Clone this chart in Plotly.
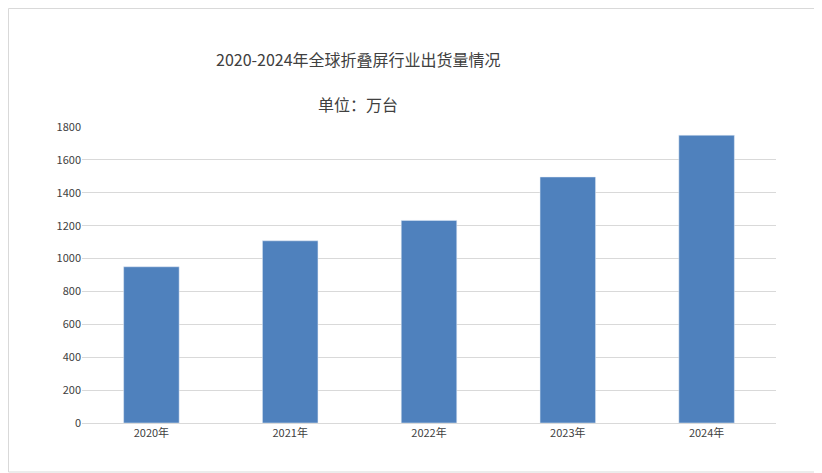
import plotly.graph_objects as go

years = ["2020年", "2021年", "2022年", "2023年", "2024年"]
shipments = [950, 1108, 1232, 1496, 1750]
tick_vals = [0, 200, 400, 600, 800, 1000, 1200, 1400, 1600, 1800]

# page body has an 8px margin, so the figure is drawn 8px smaller and shifted
W, H = 814, 465
L, R, T, B = 74, 46, 119, 50

fig = go.Figure()
fig.add_trace(go.Bar(x=years, y=shipments, marker_color="#4f81bd", width=0.4))

pw, ph = W - L - R, H - T - B

def px(x):
    return (x - L) / pw

def py(y_from_top):
    return (H - y_from_top - B) / ph

fig.update_layout(
    width=W, height=H,
    margin=dict(l=L, r=R, t=T, b=B),
    paper_bgcolor="white", plot_bgcolor="white",
    font=dict(family="Noto Sans CJK SC", size=11, color="#404040"),
    showlegend=False,
    annotations=[
        dict(text="2020-2024年全球折叠屏行业出货量情况", x=px(350), y=py(37), xref="paper", yref="paper",
             showarrow=False, font=dict(size=16, color="#404040")),
        dict(text="单位：万台", x=px(350), y=py(82), xref="paper", yref="paper",
             showarrow=False, font=dict(size=16, color="#404040")),
    ],
    shapes=[dict(type="rect", xref="paper", yref="paper", x0=px(0.5), x1=px(W - 1), y0=py(H - 1), y1=py(0.5),
                 line=dict(color="#d9d9d9", width=1))],
)

fig.update_yaxes(range=[0, 1800], tickvals=tick_vals, gridcolor="#d9d9d9", zeroline=False,
                 showline=False, tickfont=dict(size=11))
fig.update_xaxes(showline=True, linecolor="#d9d9d9", tickfont=dict(size=11))

fig.write_html("out.html")
